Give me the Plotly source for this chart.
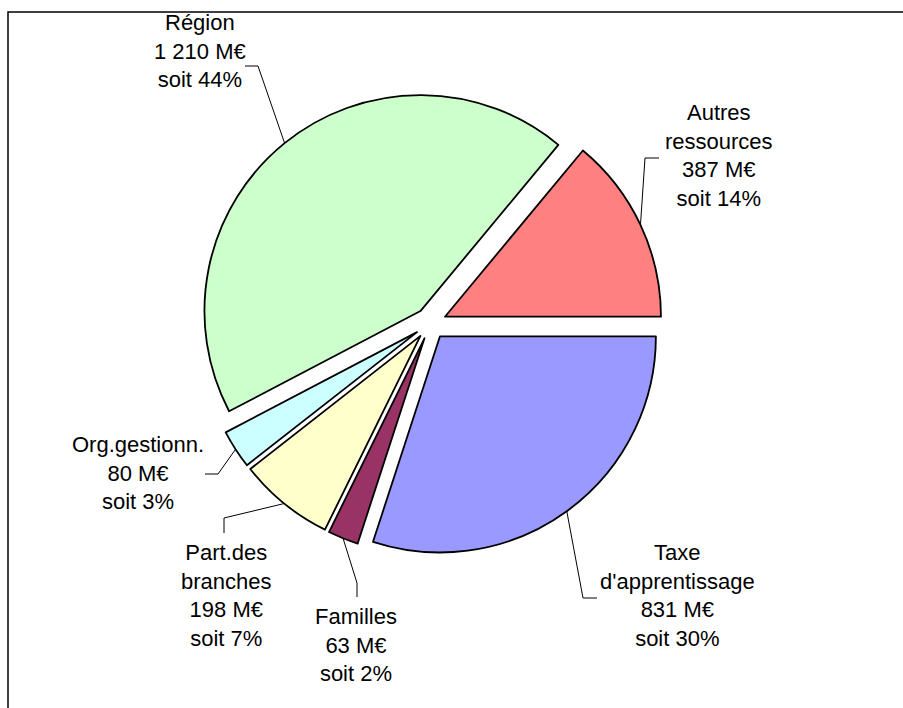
import math
import plotly.graph_objects as go

# ---- data ----
categories = ["Autres ressources", "Région", "Org.gestionn.", "Part.des branches",
              "Familles", "Taxe d'apprentissage"]
label_names = ["Autres<br>ressources", "Région", "Org.gestionn.", "Part.des<br>branches",
               "Familles", "Taxe<br>d'apprentissage"]
values = [387, 1210, 80, 198, 63, 831]          # M€
percents = [14, 44, 3, 7, 2, 30]                 # soit x %

# ---- style ----
colors = ["#FF8080", "#CCFFCC", "#CCFFFF", "#FFFFCC", "#993366", "#9999FF"]
W, H = 903, 708
CX, CY, R = 430.5, 323.5, 216.0     # pie centre / radius in pixels
PULL = 0.074
FONT = "Liberation Sans, Arial, sans-serif"

# label block centres (px) and leader-line elbow/end points (px)
label_pos = [(719, 155), (200, 51), (138, 473), (226, 595), (356, 645), (677, 595)]
leader_pts = [((645, 158), (659, 158)),
              ((258, 66), (245, 66)),
              ((218, 474), (205, 474)),
              ((224, 518), (224, 533)),
              ((357, 583), (357, 597)),
              ((583, 598), (597, 598))]


def fmt(v):
    return f"{v:,}".replace(",", " ")


def px_to_paper(x, y):
    return x / W, 1 - y / H


total = sum(values)
box = 2 * R * (1 + PULL)
dom_x = [(CX - box / 2) / W, (CX + box / 2) / W]
dom_y = [1 - (CY + box / 2) / H, 1 - (CY - box / 2) / H]

# first slice starts at 3 o'clock and the slices run counterclockwise
rotation = 90 - 360 * values[0] / total

fig = go.Figure(go.Pie(
    labels=categories,
    values=values,
    sort=False,
    direction="counterclockwise",
    rotation=rotation,
    pull=[PULL] * len(values),
    marker=dict(colors=colors, line=dict(color="black", width=1.8)),
    textinfo="none",
    hoverinfo="label+value+percent",
    showlegend=False,
    domain=dict(x=dom_x, y=dom_y),
))

shapes = []
annotations = []
cum = 0.0
for i, v in enumerate(values):
    mid = (cum + v / 2) / total * 2 * math.pi   # counterclockwise from east
    cum += v
    sx = CX + R * (1 + PULL) * math.cos(mid)
    sy = CY - R * (1 + PULL) * math.sin(mid)
    (ex, ey), (tx, ty) = leader_pts[i]
    p0 = px_to_paper(sx, sy)
    p1 = px_to_paper(ex, ey)
    p2 = px_to_paper(tx, ty)
    shapes.append(dict(type="path", xref="paper", yref="paper",
                       path=f"M {p0[0]} {p0[1]} L {p1[0]} {p1[1]} L {p2[0]} {p2[1]}",
                       line=dict(color="black", width=1)))
    lx, ly = px_to_paper(*label_pos[i])
    annotations.append(dict(
        x=lx, y=ly, xref="paper", yref="paper", showarrow=False,
        xanchor="center", yanchor="middle", align="center",
        text=f"{label_names[i]}<br>{fmt(v)} M€<br>soit {percents[i]}%",
        font=dict(family=FONT, size=22, color="black"),
    ))

# frame of the chart area (extends beyond the visible window)
fx0, fy0 = px_to_paper(8, 12)
shapes.append(dict(type="rect", xref="paper", yref="paper",
                   x0=fx0, y0=-0.2, x1=1.2, y1=fy0,
                   line=dict(color="black", width=1.5), fillcolor="rgba(0,0,0,0)"))

fig.update_layout(
    width=W, height=H,
    margin=dict(l=0, r=0, t=0, b=0),
    paper_bgcolor="white", plot_bgcolor="white",
    shapes=shapes, annotations=annotations,
)

fig.write_html("out.html", config={"displayModeBar": False},
               post_script="document.body.style.margin='0';")
